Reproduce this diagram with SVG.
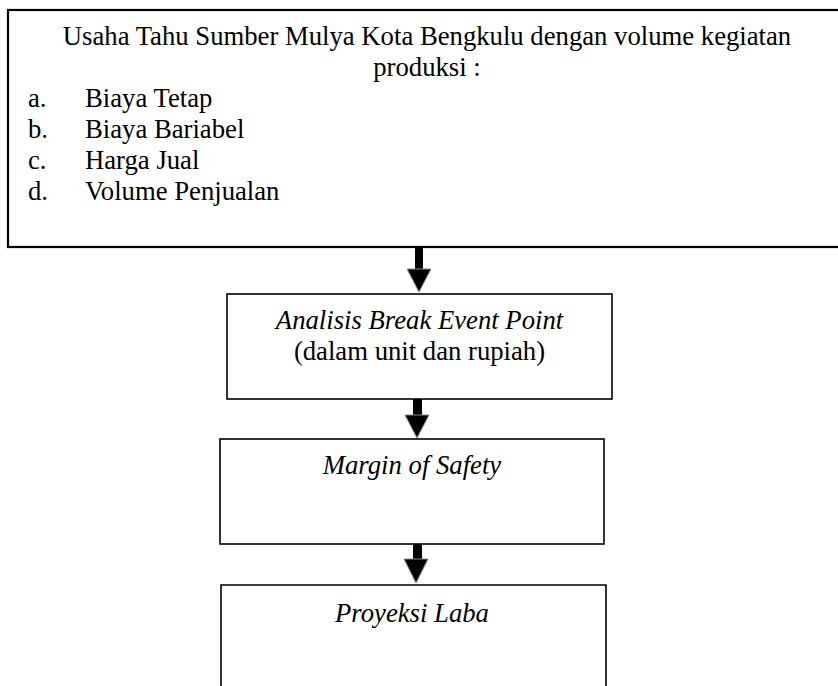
<svg xmlns="http://www.w3.org/2000/svg" width="838" height="686" viewBox="0 0 838 686">
<style>
  .box { fill: #ffffff; stroke: #000000; stroke-width: 1.6; }
  .top { stroke-width: 2.2; }
  .t { font-family: "Liberation Serif", "Times New Roman", serif; font-size: 26.7px; fill: #000000; }
  .c { text-anchor: middle; }
  .i { font-style: italic; }
  .arrow { fill: #000000; }
  .head { fill: #000000; stroke: #8a8a8a; stroke-width: 1; stroke-linejoin: miter; }
</style>
<rect width="838" height="686" fill="#ffffff"/>
<g id="node-input">
  <rect class="box top" x="8" y="10" width="840" height="237"/>
  <text class="t c" x="427" y="45">Usaha Tahu Sumber Mulya Kota Bengkulu dengan volume kegiatan</text>
  <text class="t c" x="427" y="76">produksi :</text>
  <text class="t" x="28" y="107">a.</text><text class="t" x="85" y="107">Biaya Tetap</text>
  <text class="t" x="28" y="138">b.</text><text class="t" x="85" y="138">Biaya Bariabel</text>
  <text class="t" x="28" y="169">c.</text><text class="t" x="85" y="169">Harga Jual</text>
  <text class="t" x="28" y="200">d.</text><text class="t" x="85" y="200">Volume Penjualan</text>
</g>
<g id="node-bep">
  <rect class="box" x="227" y="294" width="385" height="105"/>
  <text class="t c i" x="419.5" y="329">Analisis Break Event Point</text>
  <text class="t c" x="419.5" y="360">(dalam unit dan rupiah)</text>
</g>
<g id="node-mos">
  <rect class="box" x="220" y="439" width="384" height="105"/>
  <text class="t c i" x="412" y="474">Margin of Safety</text>
</g>
<g id="node-laba">
  <path class="box" d="M221 690 V585 H606 V690"/>
  <text class="t c i" x="412" y="622">Proyeksi Laba</text>
</g>
<g id="connectors">
  <rect class="arrow" x="415" y="247" width="8" height="23"/>
  <polygon class="head" points="407,269 431,269 419,292"/>
  <rect class="arrow" x="413" y="399" width="9" height="17"/>
  <polygon class="head" points="405,415 429,415 417,438"/>
  <rect class="arrow" x="413" y="544" width="9" height="16"/>
  <polygon class="head" points="404,559 428,559 416,583"/>
</g>
</svg>
